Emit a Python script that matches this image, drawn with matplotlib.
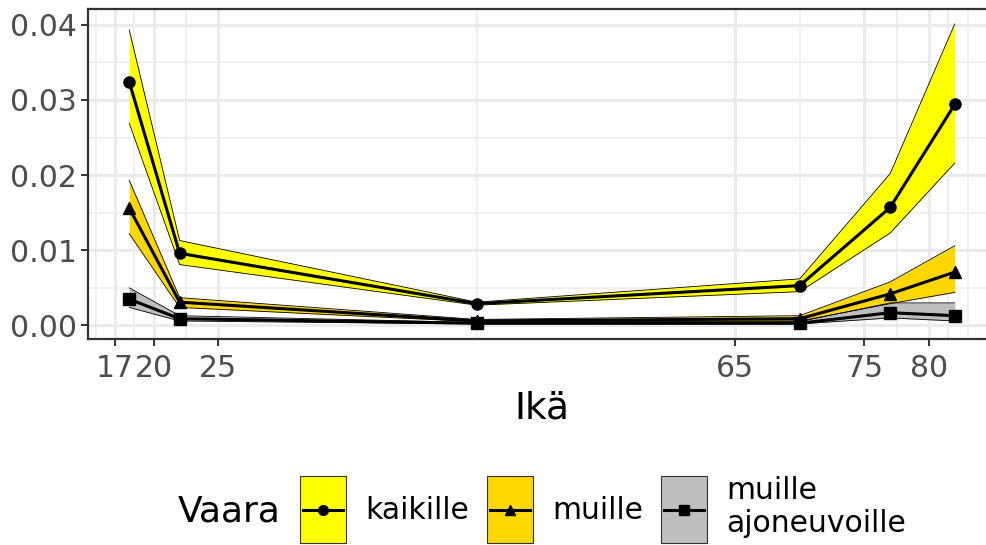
import matplotlib
matplotlib.use("Agg")
import matplotlib.pyplot as plt
from matplotlib.patches import Rectangle
from matplotlib.lines import Line2D
from matplotlib.legend_handler import HandlerBase
from matplotlib.ticker import FixedLocator, MultipleLocator

plt.rcParams['font.family'] = ['DejaVu Sans']

# --- data ---
ika = [18.1, 22, 45, 70, 77, 82]

kaikille = [0.0324, 0.0096, 0.0029, 0.0053, 0.0157, 0.0294]
kaikille_hi = [0.0393, 0.0113, 0.0031, 0.0062, 0.0202, 0.0401]
kaikille_lo = [0.0269, 0.0081, 0.0027, 0.0045, 0.0123, 0.0216]

muille = [0.0156, 0.0031, 0.0006, 0.0009, 0.0042, 0.0071]
muille_hi = [0.0193, 0.0037, 0.0008, 0.0013, 0.0058, 0.0106]
muille_lo = [0.0122, 0.0024, 0.0005, 0.0006, 0.0029, 0.0044]

ajoneuvo = [0.0035, 0.0009, 0.0003, 0.0003, 0.0017, 0.0013]
ajoneuvo_hi = [0.0050, 0.0013, 0.0004, 0.0005, 0.0030, 0.0030]
ajoneuvo_lo = [0.0024, 0.0006, 0.0002, 0.0002, 0.0010, 0.0006]

x_ticks = [17, 20, 25, 65, 75, 80]
x_minor = [15.5, 18.5, 22.5, 45, 70, 77.5, 81.5, 83]

labels = ["kaikille", "muille", "muille\najoneuvoille"]
fills = ["#FFFF00", "#FFD700", "#BEBEBE"]
markers = ["o", "^", "s"]
msizes = [8, 9, 8]

series = [
    (kaikille, kaikille_lo, kaikille_hi),
    (muille, muille_lo, muille_hi),
    (ajoneuvo, ajoneuvo_lo, ajoneuvo_hi),
]


# legend key: filled box with a line and marker through its middle
class Key:
    def __init__(self, fill, marker):
        self.fill = fill
        self.marker = marker


class KeyHandler(HandlerBase):
    def create_artists(self, legend, key, xdescent, ydescent, width, height,
                       fontsize, trans):
        x0, y0 = -xdescent, -ydescent
        yc = y0 + height / 2
        rect = Rectangle((x0, y0), width, height, facecolor=key.fill,
                         edgecolor="#333333", lw=0.8, transform=trans)
        line = Line2D([x0 + 2, x0 + width - 2], [yc, yc], color="black",
                      lw=2.2, transform=trans)
        dot = Line2D([x0 + width / 2], [yc], ls="none", marker=key.marker,
                     ms=7, color="black", transform=trans)
        return [rect, line, dot]


# --- figure ---
fig = plt.figure(figsize=(9.87, 5.45), dpi=100)
ax = fig.add_axes([88 / 987, 1 - 339 / 545, 908 / 987, 330 / 545])

# ribbons first, then lines, then points (ggplot layer order)
for (mid, lo, hi), col in zip(series, fills):
    ax.fill_between(ika, lo, hi, color=col, lw=0, zorder=2)
    ax.plot(ika, lo, color="black", lw=0.6, zorder=2.1)
    ax.plot(ika, hi, color="black", lw=0.6, zorder=2.1)
for mid, lo, hi in series:
    ax.plot(ika, mid, color="black", lw=2.2, zorder=3)
for (mid, lo, hi), m, ms in zip(series, markers, msizes):
    ax.plot(ika, mid, ls="none", marker=m, ms=ms, color="black", zorder=4)

ax.set_xlim(14.905, 85.195)
ax.set_ylim(-0.0018, 0.0421)

ax.xaxis.set_major_locator(FixedLocator(x_ticks))
ax.xaxis.set_minor_locator(FixedLocator(x_minor))
ax.yaxis.set_major_locator(MultipleLocator(0.01))
ax.yaxis.set_minor_locator(MultipleLocator(0.005))
ax.set_yticklabels([f"{v:.2f}" for v in ax.get_yticks()])

ax.grid(which="major", color="#EBEBEB", lw=2.3, zorder=0)
ax.grid(which="minor", color="#EBEBEB", lw=1.1, zorder=0)
ax.set_axisbelow(True)

for s in ax.spines.values():
    s.set_color("#333333")
    s.set_linewidth(1.6)
    s.set_zorder(5)

ax.tick_params(which="major", length=5, width=1.4, color="#333333",
               labelsize=21.5, labelcolor="#4D4D4D")
ax.tick_params(axis="x", which="major", pad=6)
ax.tick_params(axis="y", which="major", pad=3)
ax.tick_params(which="minor", length=0)

ax.set_xlabel("Ikä", fontsize=27, labelpad=5)

# --- legend ---
keys = [Key(c, m) for c, m in zip(fills, markers)]
leg = fig.legend(keys, labels, loc="center left",
                 bbox_to_anchor=(300 / 987, 1 - 509.5 / 545),
                 ncol=3, frameon=False, fontsize=21.5,
                 handlelength=1.54, handleheight=3.07,
                 handletextpad=0.64, columnspacing=0.6,
                 borderpad=0, borderaxespad=0,
                 handler_map={Key: KeyHandler()})

fig.text(178 / 987, 1 - 512 / 545, "Vaara", fontsize=26, va="center", ha="left")

fig.savefig("out.png", dpi=100)
